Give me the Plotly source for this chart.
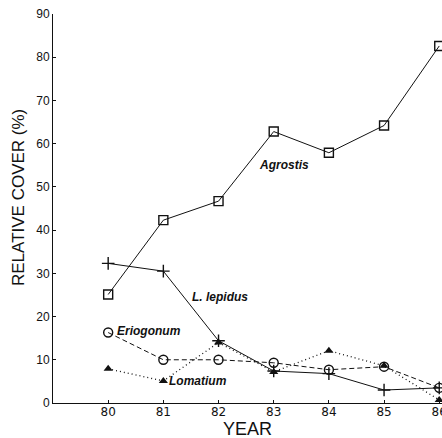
import plotly.graph_objects as go

years = [80, 81, 82, 83, 84, 85, 86]
agrostis = [25.1, 42.3, 46.7, 62.8, 57.9, 64.2, 82.6]
lepidus = [32.3, 30.5, 14.4, 7.4, 6.8, 3.0, 3.5]
eriogonum = [16.3, 10.0, 10.0, 9.3, 7.7, 8.4, 3.5]
lomatium = [7.9, 5.1, 14.0, 7.2, 12.1, 8.6, 0.7]

labels = ["Agrostis", "L. lepidus", "Eriogonum", "Lomatium"]
label_x = [82.69, 81.48, 80.13, 81.07]
label_y = [55.0, 24.5, 16.6, 5.0]

ink = "#111111"
fig = go.Figure()
fig.add_trace(go.Scatter(x=years, y=agrostis, mode="lines+markers",
    line=dict(color=ink, width=1),
    marker=dict(symbol="square-open", size=9, color=ink, line=dict(width=1.4))))
fig.add_trace(go.Scatter(x=years, y=lepidus, mode="lines+markers",
    line=dict(color=ink, width=1),
    marker=dict(symbol="cross-thin-open", size=9, color=ink, line=dict(width=1.4))))
fig.add_trace(go.Scatter(x=years, y=eriogonum, mode="lines+markers",
    line=dict(color=ink, width=1, dash="5px,3px"),
    marker=dict(symbol="circle-open", size=9, color=ink, line=dict(width=1.4))))
fig.add_trace(go.Scatter(x=years, y=lomatium, mode="lines+markers",
    line=dict(color=ink, width=1.3, dash="1px,3px"),
    marker=dict(symbol="triangle-up", size=8, color=ink)))

for t, x, y in zip(labels, label_x, label_y):
    fig.add_annotation(x=x, y=y, text="<b><i>" + t + "</i></b>", showarrow=False,
                       xanchor="left", yanchor="middle",
                       font=dict(family="Liberation Sans, Arial", size=12, color=ink))

# axis titles
fig.add_annotation(xref="paper", yref="paper", x=0.5, y=-0.066, text="YEAR",
                   showarrow=False, xanchor="center", yanchor="middle",
                   font=dict(family="Liberation Sans, Arial", size=18, color=ink))
fig.add_annotation(xref="paper", yref="paper", x=-0.0874, y=0.527,
                   text="RELATIVE COVER (%)", textangle=-90,
                   showarrow=False, xanchor="center", yanchor="middle",
                   font=dict(family="Liberation Sans, Arial", size=17, color=ink))

fig.update_layout(
    width=442, height=438,
    margin=dict(l=53, r=0, t=14, b=35, autoexpand=False),
    plot_bgcolor="white", paper_bgcolor="white",
    showlegend=False,
    font=dict(family="Liberation Sans, Arial", color=ink),
)
fig.update_xaxes(range=[79, 86.05], tickvals=years, ticktext=[str(v) for v in years],
    showgrid=False, zeroline=False, showline=True, linecolor=ink, linewidth=1,
    ticks="inside", ticklen=3, tickcolor=ink, ticklabeloverflow="allow",
    ticklabelstandoff=-2,
    tickfont=dict(family="DejaVu Sans", size=12, color=ink))
fig.update_yaxes(range=[0, 90], tickvals=list(range(0, 91, 10)),
    showgrid=False, zeroline=False, showline=True, linecolor=ink, linewidth=1,
    ticks="inside", ticklen=3, tickcolor=ink,
    tickfont=dict(size=12, color=ink))

fig.write_html("out.html")
